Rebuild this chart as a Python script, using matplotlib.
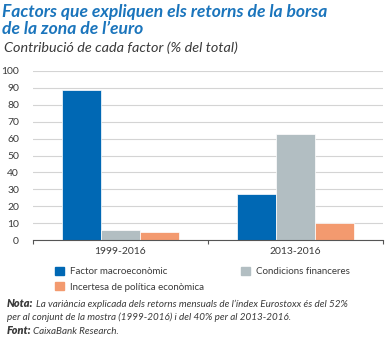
import matplotlib
matplotlib.use("Agg")
import matplotlib.pyplot as plt
import numpy as np
from matplotlib.patches import Rectangle

categories = ["1999-2016", "2013-2016"]
series_names = ["Factor macroeconòmic", "Condicions financeres", "Incertesa de política econòmica"]
macro = [89, 27]
financeres = [6, 63]
incertesa = [4.5, 10]
yticks = [0, 10, 20, 30, 40, 50, 60, 70, 80, 90, 100]

colors = ["#0068b4", "#b2bec2", "#f39a6f"]
title_color = "#1b75bc"
text_color = "#3a3a3a"

plt.rcParams['font.family'] = ['Lato', 'DejaVu Sans']

fig = plt.figure(figsize=(3.88, 3.38), dpi=100)
ax = fig.add_axes([33/388, 1-240/338, 350/388, 169/338])

x = np.arange(len(categories))
w = 0.223
for i, (vals, c) in enumerate(zip([macro, financeres, incertesa], colors)):
    ax.bar(x + (i-1)*w, vals, width=w, color=c, edgecolor="white", linewidth=0.5, zorder=3, label=series_names[i])

ax.set_ylim(0, 100)
ax.set_xlim(-0.5, 1.5)
ax.set_yticks(yticks)
ax.set_yticklabels([str(t) for t in yticks], fontsize=7.5, color=text_color)
ax.yaxis.grid(True, color="#d4d4d4", linewidth=0.8, zorder=0)
ax.tick_params(axis='y', length=0, pad=10)
ax.set_xticks(x)
ax.set_xticklabels(categories, fontsize=7.5, color=text_color)
ax.set_xticks([-0.5, 0.5, 1.5], minor=True)
ax.tick_params(axis='x', which='major', length=0, pad=5)
ax.tick_params(axis='x', which='minor', length=3, width=0.8, color="#555555", direction='out')
for s in ["top", "right", "left"]:
    ax.spines[s].set_visible(False)
ax.spines["bottom"].set_color("#555555")
ax.spines["bottom"].set_linewidth(0.8)
ax.spines["bottom"].set_zorder(4)

# Title and subtitle
fig.text(2/388, 1-17/338, "Factors que expliquen els retorns de la borsa", fontsize=12.6,
         fontweight='bold', style='italic', color=title_color)
fig.text(2/388, 1-34/338, "de la zona de l\u2019euro", fontsize=12.6,
         fontweight='bold', style='italic', color=title_color)
fig.text(4/388, 1-52/338, "Contribució de cada factor (% del total)", fontsize=10.4,
         style='italic', color=text_color)

# Legend
leg_items = [(55, 267, 0, "Factor macroeconòmic"),
             (241, 267, 1, "Condicions financeres"),
             (55, 282, 2, "Incertesa de política econòmica")]
for lx, ly, ci, name in leg_items:
    fig.patches.append(Rectangle((lx/388, 1-(ly+8)/338), 9/388, 8/338,
                                 transform=fig.transFigure, color=colors[ci]))
    fig.text((lx+15)/388, 1-(ly+7.5)/338, name, fontsize=7, color=text_color)

# Notes
fig.text(7/388, 1-307/338, "Nota:", fontsize=7.8, color=text_color, style='italic', fontweight='heavy')
fig.text(36/388, 1-307/338, "La variància explicada dels retorns mensuals de l\u2019índex Eurostoxx és del 52%",
         fontsize=7.1, color=text_color, style='italic')
fig.text(7/388, 1-320/338, "per al conjunt de la mostra (1999-2016) i del 40% per al 2013-2016.",
         fontsize=7.1, color=text_color, style='italic')
fig.text(7/388, 1-334/338, "Font:", fontsize=7.8, color=text_color, style='italic', fontweight='heavy')
fig.text(33/388, 1-334/338, "CaixaBank Research.", fontsize=7.1, color=text_color, style='italic')

fig.savefig("out.png", dpi=100)
